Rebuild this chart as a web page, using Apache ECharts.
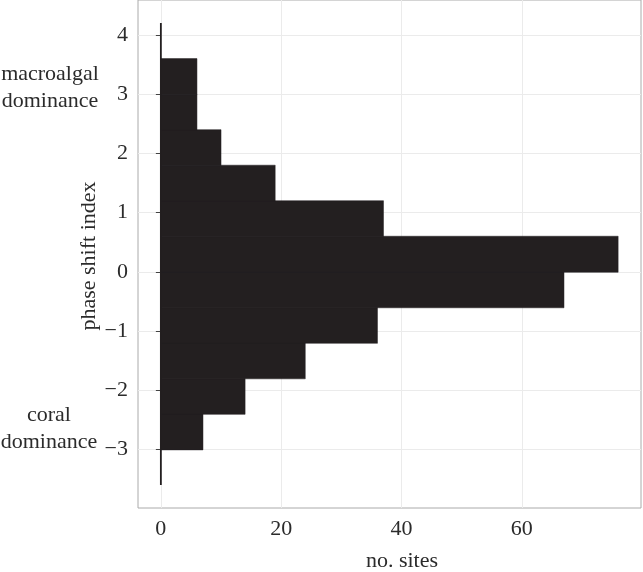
<!DOCTYPE html>
<html>
<head>
<meta charset="utf-8">
<script src="https://cdn.jsdelivr.net/npm/echarts@6/dist/echarts.min.js"></script>
<style>
  html, body { margin: 0; padding: 0; background: #fff; }
  #chart { width: 643px; height: 572px; }
</style>
</head>
<body>
<div id="chart"></div>
<script>
// histogram bins of phase shift index (lower edge), width 0.6
const binStart = [-3.0, -2.4, -1.8, -1.2, -0.6, 0.0, 0.6, 1.2, 1.8, 2.4, 3.0];
const siteCounts = [7, 14, 24, 36, 67, 76, 37, 19, 10, 6, 6];
const binWidth = 0.6;
// full range of the index (drawn as a line at 0)
const indexRange = [-3.6, 4.2];
const xTicks = [0, 20, 40, 60];
const yTicks = [-3, -2, -1, 0, 1, 2, 3, 4];

const font = "'Liberation Serif', 'DejaVu Serif', serif";
const ink = '#231f20';
const textCol = '#2b2b2b';

const chart = echarts.init(document.getElementById('chart'));

const barData = binStart.map((lo, i) => [lo, lo + binWidth, siteCounts[i]]);

const minus = v => String(v).replace('-', '\u2212');

const option = {
  animation: false,
  grid: {
    left: 138, right: 2, top: 0, bottom: 64,
    show: true, borderColor: '#aaaaaa', borderWidth: 1, backgroundColor: '#fff'
  },
  xAxis: {
    type: 'value', min: -3.8, max: 79.8,
    axisLine: { show: false },
    axisTick: { show: true, length: 5, lineStyle: { color: '#444' }, customValues: xTicks },
    axisLabel: { customValues: xTicks, fontFamily: font, fontSize: 22, color: textCol, margin: 10 },
    splitLine: { show: true, lineStyle: { color: '#ebebeb', width: 1 } }
  },
  yAxis: {
    type: 'value', min: -3.99, max: 4.59,
    axisLine: { show: false },
    axisTick: { show: true, length: 5, lineStyle: { color: '#444' }, customValues: yTicks },
    axisLabel: { customValues: yTicks, fontFamily: font, fontSize: 22, color: textCol, margin: 10, formatter: minus },
    splitLine: { show: true, lineStyle: { color: '#ebebeb', width: 1 } }
  },
  series: [
    {
      type: 'custom',
      data: barData,
      encode: { x: 2, y: [0, 1] },
      renderItem: function (params, api) {
        const p0 = api.coord([0, api.value(1)]);
        const p1 = api.coord([api.value(2), api.value(0)]);
        return {
          type: 'rect',
          shape: { x: p0[0], y: p0[1], width: p1[0] - p0[0], height: p1[1] - p0[1] + 0.5 },
          style: { fill: ink, stroke: ink, lineWidth: 0.5 }
        };
      },
      z: 2
    },
    {
      type: 'line',
      data: [[0, indexRange[0]], [0, indexRange[1]]],
      symbol: 'none',
      lineStyle: { color: ink, width: 1.8 },
      z: 3
    }
  ],
  graphic: [
    {
      type: 'text', x: 402, y: 561,
      style: { text: 'no. sites', font: '22px ' + font, fill: textCol, textAlign: 'center', textVerticalAlign: 'middle' }
    },
    {
      type: 'text', x: 89, y: 256, rotation: Math.PI / 2,
      style: { text: 'phase shift index', font: '22px ' + font, fill: textCol, textAlign: 'center', textVerticalAlign: 'middle' }
    },
    {
      type: 'text', x: 50, y: 88,
      style: { text: 'macroalgal\ndominance', font: '22px ' + font, fill: textCol, textAlign: 'center', textVerticalAlign: 'middle', lineHeight: 27 }
    },
    {
      type: 'text', x: 49, y: 429,
      style: { text: 'coral\ndominance', font: '22px ' + font, fill: textCol, textAlign: 'center', textVerticalAlign: 'middle', lineHeight: 27 }
    }
  ]
};

chart.setOption(option);
</script>
</body>
</html>
